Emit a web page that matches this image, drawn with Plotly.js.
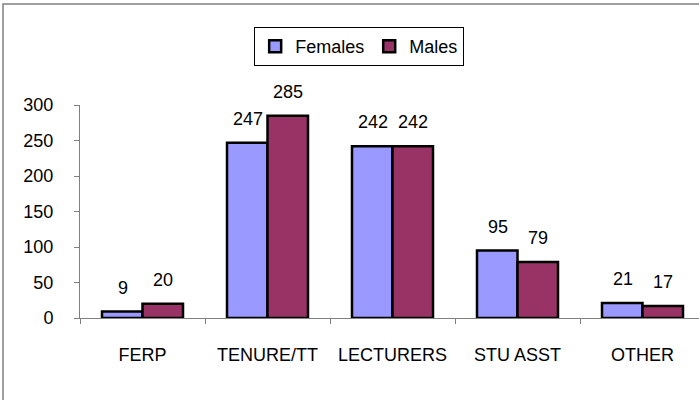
<!DOCTYPE html>
<html>
<head>
<meta charset="utf-8">
<script src="https://cdn.plot.ly/plotly-3.0.1.min.js"></script>
<style>
html, body { margin: 0; padding: 0; background: #fff; }
#chart { width: 699px; height: 400px; }
</style>
</head>
<body>
<div id="chart"></div>
<script>
const categories = ["FERP", "TENURE/TT", "LECTURERS", "STU ASST", "OTHER"];
const females = [9, 247, 242, 95, 21];
const males = [20, 285, 242, 79, 17];
const yTicks = [0, 50, 100, 150, 200, 250, 300];

const FONT = "Liberation Sans, Arial, sans-serif";
const FS = 18;

const traces = [
  {
    type: "bar", name: "Females", x: categories, y: females,
    marker: { color: "#9999FF", line: { color: "#000000", width: 2.5 } }
  },
  {
    type: "bar", name: "Males", x: categories, y: males,
    marker: { color: "#993366", line: { color: "#000000", width: 2.5 } }
  }
];

const annotations = [];
categories.forEach((c, i) => {
  annotations.push({ x: c, y: females[i], text: String(females[i]), showarrow: false,
    xshift: -20, yshift: 24, yanchor: "middle", font: { family: FONT, size: FS, color: "#000" } });
  annotations.push({ x: c, y: males[i], text: String(males[i]), showarrow: false,
    xshift: 20.5, yshift: 24, yanchor: "middle", font: { family: FONT, size: FS, color: "#000" } });
});

const layout = {
  width: 699, height: 400,
  margin: { l: 80, r: 0, t: 105, b: 82 },
  paper_bgcolor: "#ffffff", plot_bgcolor: "#ffffff",
  font: { family: FONT, size: FS, color: "#000" },
  barmode: "group", bargap: 0.352, bargroupgap: 0,
  showlegend: true,
  legend: {
    orientation: "h", x: 0.451, xanchor: "center", y: 1.366, yanchor: "top",
    bordercolor: "#000", borderwidth: 1, bgcolor: "#fff",
    font: { family: FONT, size: FS, color: "#000" }
  },
  xaxis: {
    type: "category", range: [-0.5, 4.452],
    showline: true, linecolor: "#808080", linewidth: 1,
    ticks: "outside", tickson: "boundaries", ticklen: 5, tickcolor: "#808080",
    showgrid: false, zeroline: false, tickangle: 0,
    ticklabelstandoff: 20,
    tickfont: { family: FONT, size: FS, color: "#000" }
  },
  yaxis: {
    range: [0, 300], tickvals: yTicks, ticktext: yTicks.map(String),
    showline: true, linecolor: "#808080", linewidth: 1,
    ticks: "outside", ticklen: 5, tickcolor: "#808080",
    showgrid: false, zeroline: false,
    ticklabelstandoff: 17,
    tickfont: { family: FONT, size: FS, color: "#000" }
  },
  annotations: annotations,
  shapes: [{
    type: "rect", xref: "paper", yref: "paper",
    x0: -0.1244, x1: 1.2, y0: -0.6, y1: 1.474,
    line: { color: "#808080", width: 1.5 }, fillcolor: "rgba(0,0,0,0)", layer: "below"
  }]
};

Plotly.newPlot("chart", traces, layout, { displayModeBar: false, staticPlot: true });
</script>
</body>
</html>
